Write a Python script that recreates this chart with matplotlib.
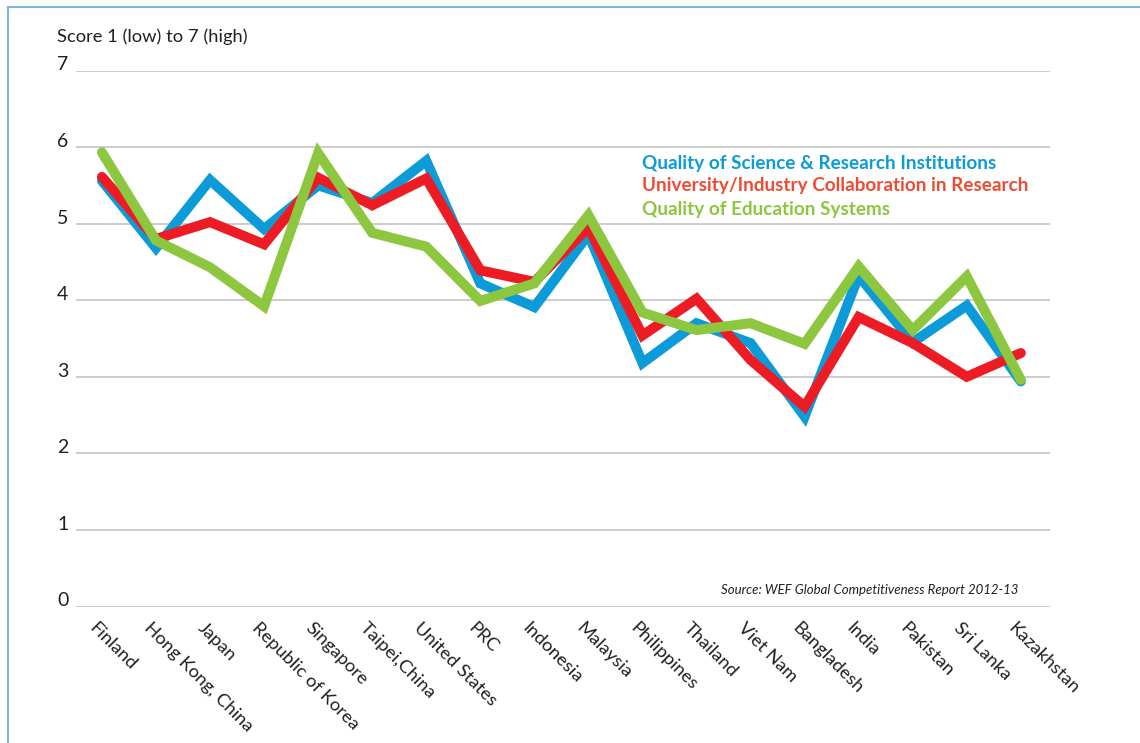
import matplotlib
matplotlib.use("Agg")
import matplotlib.pyplot as plt
from matplotlib.lines import Line2D
import matplotlib.transforms as mtransforms

countries = ["Finland", "Hong Kong, China", "Japan", "Republic of Korea", "Singapore",
             "Taipei,China", "United States", "PRC", "Indonesia", "Malaysia",
             "Philippines", "Thailand", "Viet Nam", "Bangladesh", "India",
             "Pakistan", "Sri Lanka", "Kazakhstan"]
science = [5.56, 4.68, 5.57, 4.93, 5.50, 5.27, 5.82, 4.22, 3.91, 4.86,
           3.18, 3.70, 3.44, 2.48, 4.32, 3.45, 3.93, 2.94]
collab = [5.61, 4.80, 5.02, 4.73, 5.60, 5.24, 5.59, 4.39, 4.24, 4.95,
          3.54, 4.02, 3.22, 2.61, 3.78, 3.44, 3.00, 3.31]
education = [5.93, 4.78, 4.43, 3.92, 5.92, 4.88, 4.70, 3.99, 4.22, 5.11,
             3.84, 3.61, 3.70, 3.43, 4.44, 3.61, 4.31, 2.96]
yticks = [0, 1, 2, 3, 4, 5, 6, 7]
series_names = ["Quality of Science & Research Institutions",
                "University/Industry Collaboration in Research",
                "Quality of Education Systems"]

BLUE = "#0a9bd8"
RED = "#ed1c24"
GREEN = "#8dc63f"
LEG_RED = "#ef4a32"
FONT = ["Lato", "DejaVu Sans"]

W, H = 1140, 743
fig = plt.figure(figsize=(W / 100, H / 100), dpi=100)
ax = fig.add_axes([76 / W, 1 - 606.5 / H, (1050 - 76) / W, (606.5 - 70.5) / H])

x = list(range(len(countries)))
ax.plot(x, science, color=BLUE, lw=7.2, solid_joinstyle="miter", solid_capstyle="round", zorder=3)
ax.plot(x, collab, color=RED, lw=7.2, solid_joinstyle="miter", solid_capstyle="round", zorder=4)
ax.plot(x, education, color=GREEN, lw=7.2, solid_joinstyle="miter", solid_capstyle="round", zorder=5)

ax.set_xlim(-0.48, 17.54)
ax.set_ylim(0, 7)
for s in ax.spines.values():
    s.set_visible(False)
ax.set_yticks(yticks)
ax.set_yticklabels([])
ax.tick_params(axis="both", length=0)
ax.grid(axis="y", color="#c8c8c8", lw=1.3)
ax.grid(axis="x", visible=False)
ax.set_axisbelow(True)

# y tick labels (above grid lines, left of axes)
trans = mtransforms.blended_transform_factory(fig.transFigure, ax.transData)
offset = mtransforms.ScaledTranslation(0, 4 / 72, fig.dpi_scale_trans)
for t in yticks:
    fig.text(57 / W, t, str(t), transform=trans + offset, ha="left", va="center",
             fontsize=14, color="#231f20", family=FONT)

# x tick labels
ax.set_xticks(x)
ax.set_xticklabels(countries, rotation=-45, ha="left", va="top", rotation_mode="anchor",
                   fontsize=13.2, color="#231f20", family=FONT)
for lbl in ax.get_xticklabels():
    lbl.set_transform(lbl.get_transform() + mtransforms.ScaledTranslation(-3 / 72, -6 / 72, fig.dpi_scale_trans))

fig.text(57 / W, 1 - 37 / H, "Score 1 (low) to 7 (high)", ha="left", va="center",
         fontsize=13.2, color="#231f20", family=FONT)

# legend text
for i, (name, c) in enumerate(zip(series_names, [BLUE, LEG_RED, GREEN])):
    fig.text(642 / W, 1 - (163 + 23 * i) / H, name, ha="left", va="center",
             fontsize=13.6, fontweight="bold", color=c, family=FONT)

fig.text(1018 / W, 1 - 590 / H, "Source: WEF Global Competitiveness Report 2012-13",
         ha="right", va="center", fontsize=9.5, style="italic", color="#231f20", family=FONT)

# frame lines
fig.add_artist(Line2D([8 / W, 1], [1 - 7 / H, 1 - 7 / H], transform=fig.transFigure,
                      color="#7bb9d8", lw=1.5))
fig.add_artist(Line2D([8 / W, 8 / W], [0, 1 - 7 / H], transform=fig.transFigure,
                      color="#7bb9d8", lw=1.5))

fig.savefig("out.png", dpi=100)
